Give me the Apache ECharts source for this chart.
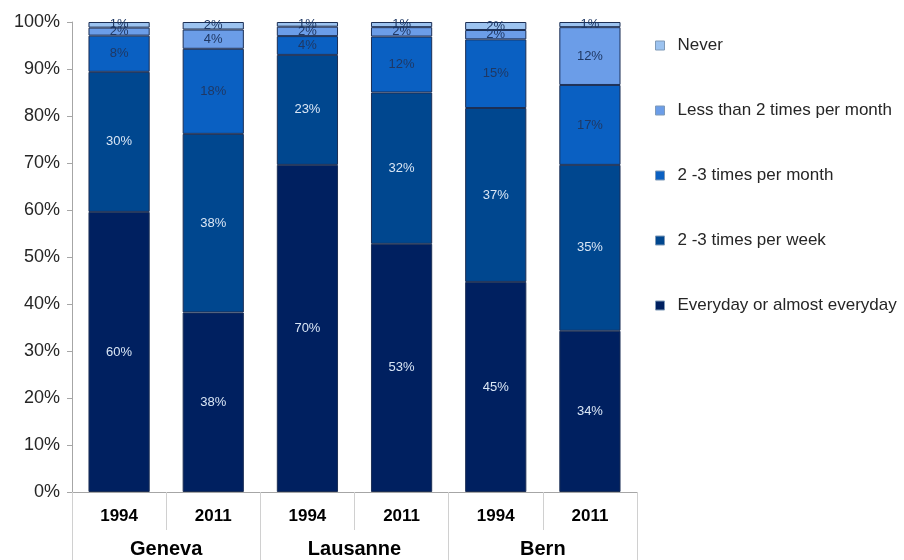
<!DOCTYPE html>
<html>
<head>
<meta charset="utf-8">
<script src="https://cdn.jsdelivr.net/npm/echarts@6/dist/echarts.min.js"></script>
<style>
  html, body { margin: 0; padding: 0; background: #fff; }
  #chart { width: 904px; height: 560px; }
</style>
</head>
<body>
<div id="chart"></div>
<script>
// Bars: city / survey year
const years = ['1994', '2011', '1994', '2011', '1994', '2011'];
const cities = ['Geneva', 'Lausanne', 'Bern'];

// Shares (%) per frequency, bottom to top of each stack
const everyday     = [59.6, 38.2, 69.6, 52.8, 44.7, 34.3];
const perWeek      = [29.8, 38.0, 23.4, 32.2, 37.0, 35.3];
const perMonth     = [7.7, 18.1, 4.0, 11.9, 14.6, 17.0];
const lessThanTwo  = [1.7, 4.1, 2.0, 2.0, 2.0, 12.3];
const never        = [1.2, 1.6, 1.0, 1.1, 1.7, 1.1];

const yTicks = [0, 10, 20, 30, 40, 50, 60, 70, 80, 90, 100];

const FONT = 'Liberation Sans, Arial, sans-serif';

function stackSeries(name, data, color, labelColor) {
  return {
    name: name,
    type: 'bar',
    stack: 'share',
    data: data,
    barCategoryGap: '35%',
    itemStyle: { color: color, borderColor: '#1c2f55', borderWidth: 1 },
    label: {
      show: true,
      position: 'inside',
      color: labelColor,
      fontFamily: FONT,
      fontSize: 13,
      formatter: p => Math.round(p.value) + '%'
    },
    emphasis: { disabled: true }
  };
}

const chart = echarts.init(document.getElementById('chart'), null, { renderer: 'canvas' });

chart.setOption({
  animation: false,
  backgroundColor: '#ffffff',
  grid: { left: 72, right: 267, top: 22, bottom: 68, containLabel: false },
  legend: {
    orient: 'vertical',
    left: 650,
    top: 32,
    itemWidth: 9,
    itemHeight: 9,
    itemGap: 48,
    icon: 'rect',
    data: ['Never', 'Less than 2 times per month', '2 -3 times per month',
           '2 -3 times per week', 'Everyday or almost everyday'],
    textStyle: { fontFamily: FONT, fontSize: 17, color: '#262626', padding: [0, 0, 0, 8] },
    itemStyle: { borderColor: '#7f9ab8', borderWidth: 1 }
  },
  xAxis: [
    {
      type: 'category',
      data: years,
      position: 'bottom',
      axisLine: { show: true, lineStyle: { color: '#a6a6a6', width: 1 } },
      axisTick: { show: true, interval: 0, length: 38, lineStyle: { color: '#d0d0d0' } },
      axisLabel: { interval: 0, margin: 16, fontFamily: FONT, fontSize: 17, fontWeight: 'bold', color: '#000' }
    },
    {
      type: 'category',
      data: cities,
      position: 'bottom',
      offset: 0,
      axisLine: { show: false },
      axisTick: { show: true, interval: 0, length: 68, lineStyle: { color: '#d0d0d0' } },
      axisLabel: { interval: 0, margin: 47, fontFamily: FONT, fontSize: 20, fontWeight: 'bold', color: '#000' }
    }
  ],
  yAxis: {
    type: 'value',
    min: yTicks[0],
    max: yTicks[yTicks.length - 1],
    interval: 10,
    splitLine: { show: false },
    axisLine: { show: true, lineStyle: { color: '#a6a6a6' } },
    axisTick: { show: true, length: 5, lineStyle: { color: '#a6a6a6' } },
    axisLabel: { margin: 12, fontFamily: FONT, fontSize: 18, color: '#262626', formatter: v => v + '%' }
  },
  series: [
    stackSeries('Everyday or almost everyday', everyday, '#002060', '#d9e6f5'),
    stackSeries('2 -3 times per week', perWeek, '#00478f', '#d9e6f5'),
    stackSeries('2 -3 times per month', perMonth, '#0a60c2', '#1f3864'),
    stackSeries('Less than 2 times per month', lessThanTwo, '#6b9de8', '#1f3864'),
    stackSeries('Never', never, '#9cc3f0', '#1f3864')
  ]
});
</script>
</body>
</html>
